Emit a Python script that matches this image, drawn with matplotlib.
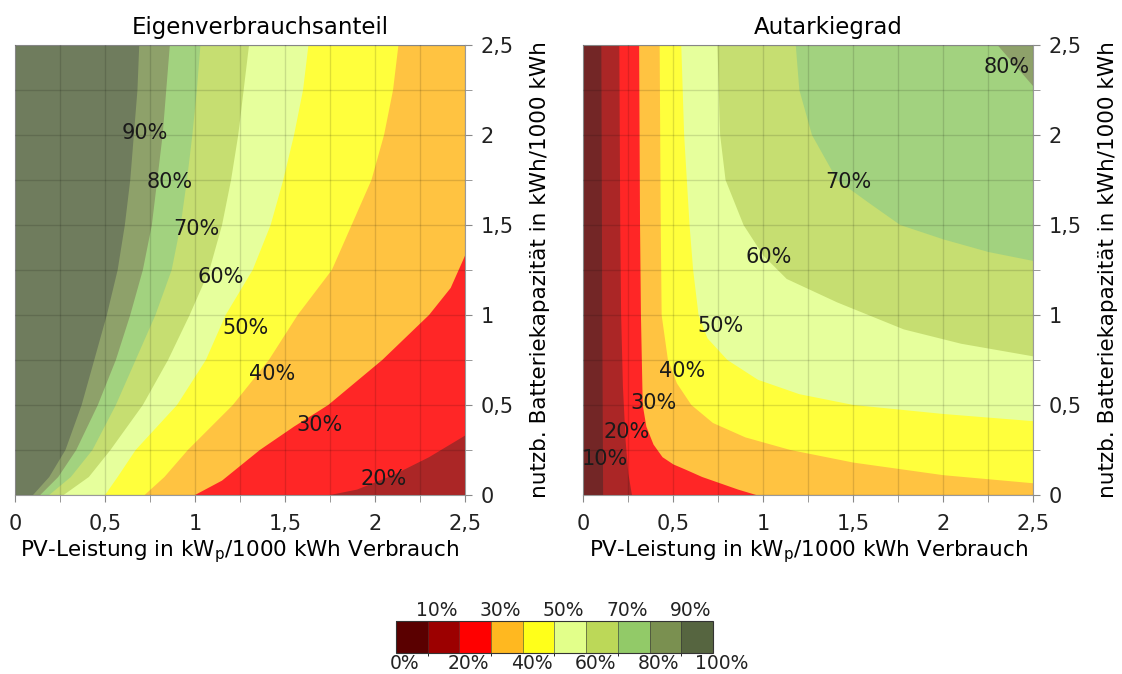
import numpy as np
import matplotlib
matplotlib.use('Agg')
import matplotlib.pyplot as plt
from matplotlib.colors import ListedColormap, BoundaryNorm, to_rgb
from matplotlib.cm import ScalarMappable
from matplotlib.ticker import MultipleLocator, FuncFormatter
from matplotlib.transforms import ScaledTranslation

# colour classes 0-10 % ... 90-100 %
levels = [0, 10, 20, 30, 40, 50, 60, 70, 80, 90, 100]
band_colors = ['#5a0000', '#9c0000', '#ff0000', '#ffb820', '#ffff1a',
               '#e2ff8a', '#bcd858', '#92ca68', '#7a9050', '#566540']

# Eigenverbrauchsanteil: iso lines,
# (PV, battery) from the bottom edge to the top / right edge
ev_lines = {
    90: ([0.10, 0.19, 0.28, 0.37, 0.44, 0.51, 0.57, 0.61, 0.64, 0.66, 0.68, 0.69],
         [0.00, 0.10, 0.25, 0.50, 0.75, 1.00, 1.25, 1.50, 1.75, 2.00, 2.25, 2.50]),
    80: ([0.14, 0.24, 0.34, 0.46, 0.56, 0.64, 0.71, 0.76, 0.79, 0.82, 0.84, 0.86],
         [0.00, 0.10, 0.25, 0.50, 0.75, 1.00, 1.25, 1.50, 1.75, 2.00, 2.25, 2.50]),
    70: ([0.19, 0.31, 0.43, 0.56, 0.67, 0.78, 0.87, 0.92, 0.955, 0.985, 1.01, 1.03],
         [0.00, 0.10, 0.25, 0.50, 0.75, 1.00, 1.25, 1.50, 1.75, 2.00, 2.25, 2.50]),
    60: ([0.27, 0.41, 0.53, 0.71, 0.85, 0.97, 1.08, 1.15, 1.20, 1.24, 1.27, 1.30],
         [0.00, 0.10, 0.25, 0.50, 0.75, 1.00, 1.25, 1.50, 1.75, 2.00, 2.25, 2.50]),
    50: ([0.50, 0.57, 0.67, 0.90, 1.06, 1.17, 1.32, 1.42, 1.49, 1.55, 1.60, 1.63],
         [0.00, 0.10, 0.25, 0.50, 0.75, 1.00, 1.25, 1.50, 1.75, 2.00, 2.25, 2.50]),
    40: ([0.72, 0.83, 0.96, 1.21, 1.41, 1.57, 1.76, 1.87, 1.98, 2.05, 2.10, 2.13],
         [0.00, 0.10, 0.25, 0.50, 0.75, 1.00, 1.25, 1.50, 1.75, 2.00, 2.25, 2.50]),
    30: ([1.00, 1.15, 1.36, 1.55, 1.74, 2.04, 2.30, 2.42, 2.50],
         [0.00, 0.08, 0.25, 0.38, 0.50, 0.75, 1.00, 1.15, 1.33]),
    20: ([1.75, 1.90, 2.10, 2.30, 2.50],
         [0.00, 0.03, 0.11, 0.21, 0.33]),
}
ev_labels = [(0.72, 2.01, '90%'), (0.86, 1.74, '80%'), (1.01, 1.48, '70%'),
             (1.14, 1.21, '60%'), (1.28, 0.93, '50%'), (1.43, 0.67, '40%'),
             (1.69, 0.39, '30%'), (2.05, 0.09, '20%')]

# Autarkiegrad: iso lines from the top edge to the bottom / right edge
ag_lines = {
    10: ([0.10, 0.105, 0.11],
         [2.50, 1.00, 0.00]),
    20: ([0.20, 0.205, 0.21, 0.22, 0.235, 0.25, 0.27],
         [2.50, 1.50, 1.00, 0.60, 0.30, 0.12, 0.00]),
    30: ([0.31, 0.315, 0.32, 0.33, 0.35, 0.39, 0.44, 0.50, 0.57, 0.66, 0.76, 0.86, 0.96],
         [2.50, 1.50, 1.00, 0.50, 0.38, 0.28, 0.21, 0.17, 0.14, 0.10, 0.065, 0.03, 0.00]),
    40: ([0.424, 0.43, 0.435, 0.47, 0.52, 0.60, 0.72, 0.90, 1.15, 1.50, 2.00, 2.50],
         [2.50, 1.50, 1.00, 0.75, 0.62, 0.50, 0.40, 0.32, 0.25, 0.18, 0.11, 0.065]),
    50: ([0.544, 0.56, 0.59, 0.61, 0.64, 0.69, 0.80, 0.97, 1.20, 1.50, 2.00, 2.50],
         [2.50, 2.00, 1.50, 1.25, 1.00, 0.87, 0.75, 0.64, 0.56, 0.50, 0.45, 0.41]),
    60: ([0.745, 0.76, 0.79, 0.89, 1.00, 1.13, 1.41, 1.78, 2.10, 2.50],
         [2.50, 2.00, 1.75, 1.50, 1.33, 1.20, 1.07, 0.92, 0.84, 0.77]),
    70: ([1.18, 1.20, 1.27, 1.41, 1.59, 1.76, 2.00, 2.25, 2.50],
         [2.50, 2.25, 2.00, 1.75, 1.62, 1.50, 1.42, 1.35, 1.30]),
    80: ([2.30, 2.50],
         [2.50, 2.27]),
}
ag_labels = [(2.35, 2.38, '80%'), (1.47, 1.74, '70%'), (1.03, 1.32, '60%'),
             (0.76, 0.94, '50%'), (0.55, 0.69, '40%'), (0.39, 0.51, '30%'),
             (0.24, 0.35, '20%'), (0.12, 0.20, '10%')]

S = 2.5


def wash(c, a=0.85):
    # the map areas are a bit paler than the legend
    return tuple(a * np.array(to_rgb(c)) + (1 - a))


def edge_pos(x, y):
    # position along the frame, counter-clockwise from (0, 0)
    eps = 1e-6
    if abs(y) < eps and x < S - eps:
        return x / S
    if abs(x - S) < eps and y < S - eps:
        return 1 + y / S
    if abs(y - S) < eps and x > eps:
        return 2 + (S - x) / S
    return 3 + (S - y) / S


def region(xs, ys):
    # close an iso line along the frame (counter-clockwise from its end)
    corners = [(S, 0), (S, S), (0, S), (0, 0)]
    t_start = edge_pos(xs[0], ys[0])
    t_end = edge_pos(xs[-1], ys[-1])
    if t_start <= t_end:
        t_start += 4
    px, py = list(xs), list(ys)
    for k in range(int(np.floor(t_end)) + 1, int(np.ceil(t_start))):
        cx, cy = corners[(k - 1) % 4]
        px.append(cx)
        py.append(cy)
    return px, py


def comma(v, pos):
    return '{:g}'.format(v).replace('.', ',')


def draw(ax, lines, labels, title):
    lv = sorted(lines)
    base = band_colors[lv[0] // 10 - 1]
    ax.fill([0, S, S, 0], [0, 0, S, S], color=wash(base), lw=0)
    for L in lv:
        px, py = region(*lines[L])
        ax.fill(px, py, color=wash(band_colors[L // 10]), lw=0)
    for x, y, t in labels:
        ax.text(x, y, t, ha='center', va='center', fontsize=15,
                color='#1a1a1a', zorder=4)
    ax.set_xlim(0, S)
    ax.set_ylim(0, S)
    ax.xaxis.set_major_locator(MultipleLocator(0.5))
    ax.xaxis.set_minor_locator(MultipleLocator(0.25))
    ax.yaxis.set_major_locator(MultipleLocator(0.5))
    ax.yaxis.set_minor_locator(MultipleLocator(0.25))
    ax.xaxis.set_major_formatter(FuncFormatter(comma))
    ax.yaxis.set_major_formatter(FuncFormatter(comma))
    ax.yaxis.tick_right()
    ax.yaxis.set_label_position('right')
    ax.tick_params(which='both', length=5, color='#888888', labelsize=15,
                   labelcolor='#222222')
    ax.tick_params(axis='x', pad=9)
    ax.tick_params(axis='y', pad=6)
    ax.set_axisbelow(False)
    ax.grid(which='both', color='k', alpha=0.13, lw=1)
    for sp in ax.spines.values():
        sp.set_color('#9a9a9a')
    ax.set_title(title, fontsize=16.5, pad=8, x=0.545)
    ax.set_xlabel(r'PV-Leistung in kW$_\mathregular{p}$/1000 kWh Verbrauch',
                  fontsize=15.5, labelpad=3)
    ax.set_ylabel('nutzb. Batteriekapazität in kWh/1000 kWh', fontsize=15.5,
                  labelpad=12)


fig = plt.figure(figsize=(11.22, 6.74), dpi=100)
ax1 = fig.add_axes([0.0134, 0.2656, 0.4011, 0.6677])
ax2 = fig.add_axes([0.5199, 0.2656, 0.4011, 0.6677])
draw(ax1, ev_lines, ev_labels, 'Eigenverbrauchsanteil')
draw(ax2, ag_lines, ag_labels, 'Autarkiegrad')

# legend bar
cax = fig.add_axes([0.3529, 0.0312, 0.2825, 0.0475])
cmap = ListedColormap(band_colors)
norm = BoundaryNorm(levels, cmap.N)
cb = fig.colorbar(ScalarMappable(norm=norm, cmap=cmap), cax=cax,
                  orientation='horizontal', drawedges=True)
cb.outline.set_edgecolor('#333333')
cb.dividers.set_color('#333333')
cb.set_ticks(levels[::2])
cb.set_ticklabels(['{}%'.format(v) for v in levels[::2]])
cax.tick_params(length=0, labelsize=13.5, pad=1, labelcolor='#222222')
top = cax.secondary_xaxis('top')
top.set_ticks(levels[1::2])
top.set_xticklabels(['{}%'.format(v) for v in levels[1::2]])
top.tick_params(length=0, labelsize=13.5, pad=1, labelcolor='#222222')
top.spines['top'].set_visible(False)
shift = ScaledTranslation(0.09, 0, fig.dpi_scale_trans)
for lab in cax.get_xticklabels() + top.get_xticklabels():
    lab.set_transform(lab.get_transform() + shift)

fig.savefig('out.png', dpi=100)
